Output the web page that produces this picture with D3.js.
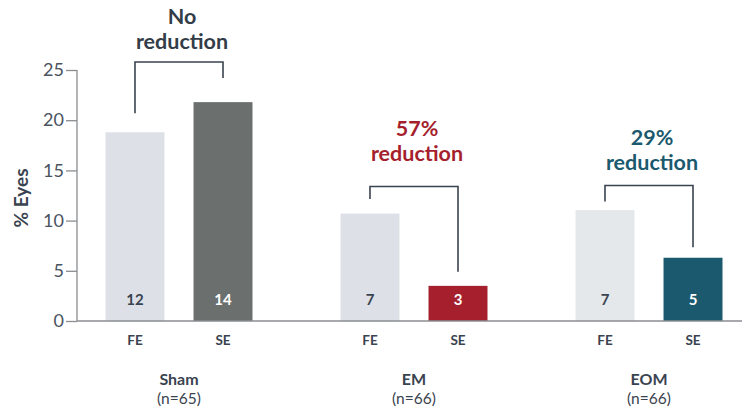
<!DOCTYPE html>
<html><head><meta charset="utf-8">
<script src="https://cdn.jsdelivr.net/npm/d3@7"></script>
<style>body{margin:0;background:#fff;} svg{display:block;font-family:Lato,"Open Sans",sans-serif;}</style>
</head><body>
<svg id="c" width="746" height="410"></svg>
<script>
const groups = ["Sham", "EM", "EOM"];
const groupN = ["(n=65)", "(n=66)", "(n=66)"];
const subs = ["FE", "SE"];
const feValues = [18.8, 10.7, 11.05];
const seValues = [21.8, 3.5, 6.3];
const feCounts = ["12", "7", "7"];
const seCounts = ["14", "3", "5"];
const annotLine1 = ["No", "57%", "29%"];
const annotLine2 = ["reduction", "reduction", "reduction"];
const bracketTop = [25.8, 13.4, 13.5];
const bracketLegFE = [20.7, 12.15, 11.9];
const bracketLegSE = [24.2, 4.9, 7.35];
const annotLevel = [27.1, 15.95, 15.05];
const yTicks = [0, 5, 10, 15, 20, 25];
const feColors = ["#dde1e7", "#dde1e7", "#e5e8eb"];
const seColors = ["#6b6f6e", "#a51f2d", "#1b5a6e"];
const annotColors = ["#333d48", "#a51f2d", "#1b5a6e"];

const svg = d3.select("#c");
const y = d3.scaleLinear().domain([0, 25]).range([321, 70]);
const x0 = d3.scaleBand().domain(groups).range([61.5, 766.5]).paddingInner(0).paddingOuter(0);
const x1 = d3.scaleBand().domain(subs).range([0, x0.bandwidth()]).paddingInner(0.33).paddingOuter(0.5);
const textCol = "#3a4350";

// y axis
const yAxis = d3.axisLeft(y).tickValues(yTicks).tickSize(10).tickPadding(4);
const ga = svg.append("g").attr("transform", "translate(77,0)").call(yAxis);
ga.select(".domain").attr("stroke", "#8a8d90").attr("stroke-width", 1.3).attr("d", "M0,70V321");
ga.selectAll(".tick line").attr("stroke", "#8a8d90").attr("stroke-width", 1.3).attr("x1", -11).attr("x2", 0);
ga.selectAll(".tick text").attr("fill", "#4a5360").style("font-size", "18px").style("font-family", "Lato,sans-serif").attr("x", -13);

svg.append("text").attr("transform", "translate(28,198) rotate(-90)").attr("text-anchor", "middle")
  .attr("fill", textCol).style("font-size", "19px").style("font-weight", "bold").text("% Eyes");

// bars
const rows = [];
groups.forEach((g, i) => {
  rows.push({g, i, s: "FE", v: feValues[i], c: feColors[i], n: feCounts[i], tc: textCol});
  rows.push({g, i, s: "SE", v: seValues[i], c: seColors[i], n: seCounts[i], tc: "#ffffff"});
});
svg.selectAll("rect.bar").data(rows).enter().append("rect").attr("class", "bar")
  .attr("x", d => x0(d.g) + x1(d.s)).attr("width", x1.bandwidth())
  .attr("y", d => y(d.v)).attr("height", d => y(0) - y(d.v)).attr("fill", d => d.c);
svg.selectAll("text.cnt").data(rows).enter().append("text").attr("class", "cnt")
  .attr("x", d => x0(d.g) + x1(d.s) + x1.bandwidth() / 2).attr("y", 304.5)
  .attr("text-anchor", "middle").attr("fill", d => d.tc)
  .style("font-size", "15px").style("font-weight", "bold").text(d => d.n);

// baseline
svg.append("line").attr("x1", 77).attr("x2", 742).attr("y1", y(0)).attr("y2", y(0)).attr("stroke", "#8a8d90").attr("stroke-width", 1.3);

// sub labels
svg.selectAll("text.sub").data(rows).enter().append("text").attr("class", "sub")
  .attr("x", d => x0(d.g) + x1(d.s) + x1.bandwidth() / 2).attr("y", 345)
  .attr("text-anchor", "middle").attr("fill", textCol)
  .style("font-size", "13.5px").style("font-weight", "bold").text(d => d.s);

// group labels
groups.forEach((g, i) => {
  const cx = x0(g) + x0.bandwidth() / 2;
  svg.append("text").attr("x", cx).attr("y", 385).attr("text-anchor", "middle").attr("fill", textCol)
    .style("font-size", "16px").style("font-weight", "bold").text(g);
  svg.append("text").attr("x", cx).attr("y", 404).attr("text-anchor", "middle").attr("fill", textCol)
    .style("font-size", "15.5px").text(groupN[i]);
});

// brackets and annotations
groups.forEach((g, i) => {
  const xa = x0(g) + x1("FE") + x1.bandwidth() / 2;
  const xb = x0(g) + x1("SE") + x1.bandwidth() / 2;
  const p = d3.path();
  p.moveTo(xa, y(bracketLegFE[i])); p.lineTo(xa, y(bracketTop[i]));
  p.lineTo(xb, y(bracketTop[i])); p.lineTo(xb, y(bracketLegSE[i]));
  svg.append("path").attr("d", p.toString()).attr("fill", "none").attr("stroke", "#3a4350").attr("stroke-width", 1.6);
  const cx = (xa + xb) / 2 + 3;
  const base = y(annotLevel[i]);
  svg.append("text").attr("x", cx).attr("y", base - 25).attr("text-anchor", "middle").attr("fill", annotColors[i])
    .style("font-size", "21.5px").style("font-weight", "bold").text(annotLine1[i]);
  svg.append("text").attr("x", cx).attr("y", base).attr("text-anchor", "middle").attr("fill", annotColors[i])
    .style("font-size", "21.5px").style("font-weight", "bold").text(annotLine2[i]);
});
</script>
</body></html>
